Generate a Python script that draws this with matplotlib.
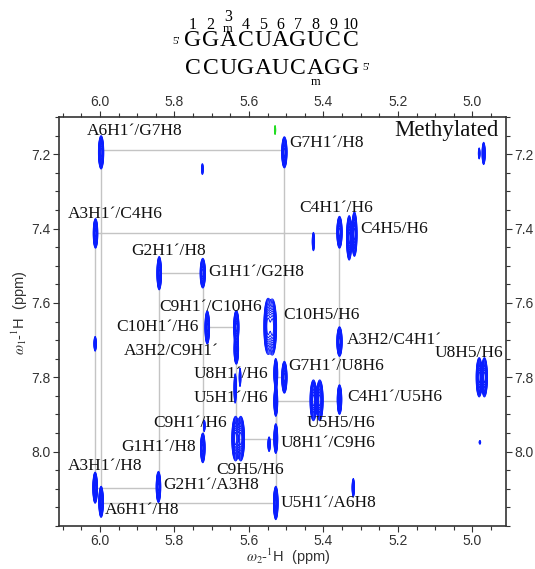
import numpy as np
import matplotlib
matplotlib.use('Agg')
import matplotlib.pyplot as plt
from matplotlib.ticker import MultipleLocator, FixedLocator, FormatStrFormatter

plt.rcParams['mathtext.fontset'] = 'stix'

# ---------------- data ----------------
# cross peaks: omega2 (ppm), omega1 (ppm), half-extent in omega2, half-extent in omega1, relative intensity
peak_w2 = [5.997, 5.505, 6.012, 5.357, 5.331, 5.317, 5.427, 4.970, 4.982, 5.725,
           5.841, 5.724, 6.013, 5.712, 5.634, 5.634, 5.549, 5.537, 5.357, 5.505,
           5.528, 5.528, 5.357, 5.427, 5.410, 4.982, 4.968, 5.636, 5.622, 5.624,
           5.637, 5.528, 5.546, 5.724, 5.720, 5.843, 6.013, 5.997, 5.528, 5.320,
           4.980]
peak_w1 = [7.195, 7.195, 7.413, 7.410, 7.425, 7.415, 7.435, 7.198, 7.198, 7.240,
           7.520, 7.520, 7.710, 7.666, 7.665, 7.725, 7.663, 7.665, 7.704, 7.800,
           7.790, 7.865, 7.860, 7.862, 7.862, 7.800, 7.800, 7.965, 7.965, 7.800,
           7.830, 7.965, 7.980, 7.990, 7.930, 8.095, 8.097, 8.135, 8.138, 8.097,
           7.975]
peak_hw2 = [0.007, 0.007, 0.006, 0.007, 0.007, 0.007, 0.003, 0.004, 0.002, 0.002,
            0.006, 0.007, 0.003, 0.006, 0.007, 0.006, 0.011, 0.011, 0.007, 0.007,
            0.005, 0.005, 0.006, 0.009, 0.009, 0.008, 0.008, 0.010, 0.010, 0.002,
            0.003, 0.005, 0.003, 0.006, 0.002, 0.006, 0.006, 0.006, 0.006, 0.003,
            0.002]
peak_hw1 = [0.045, 0.042, 0.040, 0.043, 0.060, 0.060, 0.025, 0.030, 0.015, 0.015,
            0.045, 0.040, 0.020, 0.045, 0.045, 0.040, 0.075, 0.075, 0.040, 0.043,
            0.040, 0.040, 0.040, 0.055, 0.055, 0.053, 0.053, 0.060, 0.060, 0.025,
            0.040, 0.040, 0.020, 0.040, 0.015, 0.042, 0.042, 0.042, 0.045, 0.025,
            0.005]
peak_int = [1.0, 1.0, 1.0, 1.0, 1.0, 1.0, 0.3, 0.6, 0.25, 0.25,
            1.0, 0.8, 0.35, 1.0, 1.0, 0.9, 1.0, 1.0, 1.0, 1.0,
            0.7, 0.8, 0.9, 1.0, 1.0, 1.0, 1.0, 1.0, 1.0, 0.3,
            0.4, 0.9, 0.35, 0.8, 0.25, 1.0, 1.0, 1.0, 1.0, 0.35,
            0.15]

# negative (green) peak
neg_w2 = [5.530]
neg_w1 = [7.135]
neg_hw2 = [0.0015]
neg_hw1 = [0.013]
neg_int = [0.4]

# sequential walk: H1' columns (omega2) and base H6/H8 rows (omega1)
walk_w2 = [5.724, 5.724, 5.841, 5.841, 6.013, 6.013, 5.357, 5.357, 5.528, 5.528,
           5.997, 5.997, 5.505, 5.505, 5.528, 5.528, 5.634, 5.634, 5.712]
walk_w1 = [7.990, 7.520, 7.520, 8.097, 8.097, 7.413, 7.413, 7.865, 7.865, 8.138,
           8.138, 7.190, 7.190, 7.800, 7.800, 7.967, 7.967, 7.665, 7.665]

labels = ["A6H1\u00b4/G7H8", "A3H1\u00b4/C4H6", "G2H1\u00b4/H8", "G1H1\u00b4/G2H8",
          "G7H1\u00b4/H8", "C4H1\u00b4/H6", "C4H5/H6", "C9H1\u00b4/C10H6", "C10H5/H6",
          "C10H1\u00b4/H6", "A3H2/C9H1\u00b4", "A3H2/C4H1\u00b4", "U8H5/H6",
          "G7H1\u00b4/U8H6", "U8H1\u00b4/H6", "U5H1\u00b4/H6", "C4H1\u00b4/U5H6",
          "U5H5/H6", "C9H1\u00b4/H6", "G1H1\u00b4/H8", "U8H1\u00b4/C9H6", "A3H1\u00b4/H8",
          "C9H5/H6", "G2H1\u00b4/A3H8", "U5H1\u00b4/A6H8", "A6H1\u00b4/H8"]
label_w2 = [6.036, 6.087, 5.917, 5.709, 5.491, 5.464, 5.300, 5.841, 5.509,
            5.955, 5.937, 5.337, 5.101, 5.494, 5.749, 5.749, 5.337,
            5.446, 5.857, 5.942, 5.516, 6.087, 5.689, 5.830, 5.516, 5.987]
label_w1 = [7.137, 7.360, 7.460, 7.516, 7.170, 7.346, 7.400, 7.610, 7.632,
            7.664, 7.728, 7.700, 7.735, 7.770, 7.790, 7.856, 7.852,
            7.922, 7.924, 7.987, 7.976, 8.038, 8.049, 8.089, 8.139, 8.157]

strand_top = "GGACUAGUCC"
strand_bottom = "CCUGAUCAGG"
numbers = [str(i) for i in range(1, 11)]

x_ticks = [6.0, 5.8, 5.6, 5.4, 5.2, 5.0]
y_ticks = [7.2, 7.4, 7.6, 7.8, 8.0]

xlim = (6.11, 4.91)
ylim = (8.20, 7.10)

# ---------------- figure ----------------
W, H = 535, 569
fig = plt.figure(figsize=(W / 100, H / 100), dpi=100)
ax = fig.add_axes([59 / W, 1 - 526 / H, (506 - 59) / W, (526 - 117) / H])

gx = np.linspace(min(xlim), max(xlim), 900)
gy = np.linspace(min(ylim), max(ylim), 900)
X, Y = np.meshgrid(gx, gy)
L0 = 0.06


def spectrum(xs, ys, hxs, hys, amps):
    Z = np.zeros_like(X)
    for x0, y0, hx, hy, a in zip(xs, ys, hxs, hys, amps):
        f = np.sqrt(2 * np.log(a / L0))
        sx, sy = hx / f, hy / f
        Z += a * np.exp(-((X - x0) ** 2 / (2 * sx ** 2) + (Y - y0) ** 2 / (2 * sy ** 2)))
    return Z


Zp = spectrum(peak_w2, peak_w1, peak_hw2, peak_hw1, peak_int)
Zn = spectrum(neg_w2, neg_w1, neg_hw2, neg_hw1, neg_int)

ax.plot(walk_w2, walk_w1, color='#c4c4c4', lw=1.0, zorder=1)

levels = L0 * (1.0 / L0) ** np.linspace(0, 1, 14)[:-1]
ax.contour(X, Y, Zp, levels=levels, colors='#0a1eff', linewidths=0.7, zorder=2)
ax.contour(X, Y, Zn, levels=levels[:4], colors='#22dd22', linewidths=0.6, zorder=2)

for t, lx, ly in zip(labels, label_w2, label_w1):
    ax.text(lx, ly, t, ha='left', va='center', fontsize=12.5,
            family='Liberation Serif', color='#111111', zorder=3)

ax.text(4.93, 7.135, "Methylated", ha='right', va='center', fontsize=16.5,
        family='Liberation Serif', color='#111111')

ax.set_xlim(*xlim)
ax.set_ylim(*ylim)
ax.xaxis.set_major_locator(FixedLocator(x_ticks))
ax.xaxis.set_minor_locator(MultipleLocator(0.05))
ax.yaxis.set_major_locator(FixedLocator(y_ticks))
ax.yaxis.set_minor_locator(MultipleLocator(0.05))
ax.xaxis.set_major_formatter(FormatStrFormatter('%.1f'))
ax.yaxis.set_major_formatter(FormatStrFormatter('%.1f'))
ax.tick_params(which='both', direction='out', top=True, bottom=True, left=True, right=True,
               labeltop=True, labelbottom=True, labelleft=True, labelright=True,
               colors='#333333', width=0.8)
ax.tick_params(which='major', length=4, labelsize=10, pad=2)
ax.tick_params(which='minor', length=3)
for lab in ax.get_xticklabels() + ax.get_yticklabels():
    lab.set_family('Liberation Sans')
for s in ax.spines.values():
    s.set_linewidth(1.2)
    s.set_color('#333333')

fig.text(288 / W, 1 - 557 / H, r'$\omega_2$-$^1$H  (ppm)', ha='center', va='center',
         fontsize=10.5, family='Liberation Sans', color='#333333')
fig.text(20 / W, 1 - 313 / H, r'$\omega_1$-$^1$H  (ppm)', ha='center', va='center',
         rotation=90, fontsize=10.5, family='Liberation Sans', color='#333333')

# sequence header
x0, dx = 193.0, 17.5
for i, ch in enumerate(strand_top):
    fig.text((x0 + i * dx) / W, 1 - 41 / H, ch, ha='center', va='center',
             fontsize=17, family='Liberation Serif', color='black')
for i, ch in enumerate(strand_bottom):
    fig.text((x0 + i * dx) / W, 1 - 68 / H, ch, ha='center', va='center',
             fontsize=17, family='Liberation Serif', color='black')
for i, n in enumerate(numbers):
    yy = 17 if n == '3' else 25
    fig.text((x0 + i * dx) / W, 1 - yy / H, n, ha='center', va='center',
             fontsize=11.5, family='Liberation Serif', color='black')
fig.text((x0 + 2 * dx) / W, 1 - 29 / H, 'm', ha='center', va='center',
         fontsize=9, family='Liberation Serif', color='black')
fig.text((x0 + 7 * dx) / W, 1 - 82 / H, 'm', ha='center', va='center',
         fontsize=9, family='Liberation Serif', color='black')
fig.text(176 / W, 1 - 41 / H, "5'", ha='center', va='center',
         fontsize=8, family='Liberation Serif', color='black')
fig.text(366 / W, 1 - 67 / H, "5'", ha='center', va='center',
         fontsize=8, family='Liberation Serif', color='black')

fig.savefig('out.png', dpi=100)
